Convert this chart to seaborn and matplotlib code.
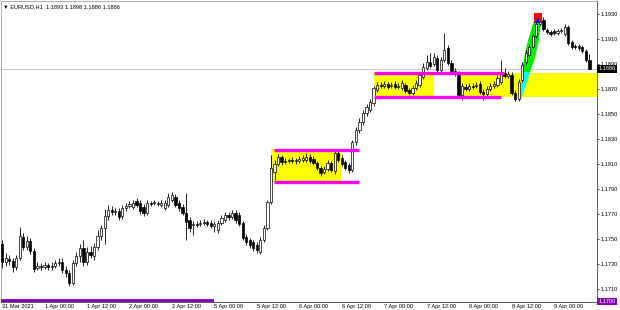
import numpy as np
import pandas as pd
import seaborn as sns
import matplotlib
matplotlib.use("Agg")
import matplotlib.pyplot as plt
from matplotlib.patches import Rectangle, Polygon

# ---------------- data (EURUSD H1, 31 Mar 2021 12:00 .. 9 Apr 2021 10:00) ----------------
opens = [1.17460, 1.17316, 1.17340, 1.17324, 1.17276, 1.17348, 1.17516, 1.17436, 1.17484, 1.17404,
         1.17268, 1.17284, 1.17276, 1.17292, 1.17276, 1.17284, 1.17308, 1.17316, 1.17252, 1.17228,
         1.17148, 1.17308, 1.17364, 1.17428, 1.17316, 1.17396, 1.17364, 1.17436, 1.17524, 1.17588,
         1.17684, 1.17732, 1.17716, 1.17724, 1.17684, 1.17748, 1.17764, 1.17756, 1.17804, 1.17788,
         1.17756, 1.17708, 1.17788, 1.17788, 1.17780, 1.17772, 1.17748, 1.17772, 1.17812, 1.17836,
         1.17788, 1.17756, 1.17708, 1.17652, 1.17612, 1.17620, 1.17620, 1.17628, 1.17636, 1.17628,
         1.17604, 1.17572, 1.17628, 1.17652, 1.17692, 1.17676, 1.17708, 1.17692, 1.17628, 1.17516,
         1.17492, 1.17476, 1.17452, 1.17396, 1.17492, 1.17588, 1.17796, 1.18036, 1.18100, 1.18156,
         1.18124, 1.18124, 1.18132, 1.18124, 1.18124, 1.18132, 1.18132, 1.18156, 1.18140, 1.18108,
         1.18068, 1.18036, 1.18060, 1.18108, 1.18044, 1.18188, 1.18148, 1.18116, 1.18092, 1.18052,
         1.18276, 1.18372, 1.18436, 1.18508, 1.18532, 1.18588, 1.18692, 1.18732, 1.18724, 1.18740,
         1.18724, 1.18740, 1.18716, 1.18708, 1.18732, 1.18692, 1.18668, 1.18708, 1.18732, 1.18796,
         1.18868, 1.18916, 1.18900, 1.18948, 1.18852, 1.18932, 1.19028, 1.18908, 1.18844, 1.18828,
         1.18652, 1.18716, 1.18700, 1.18724, 1.18724, 1.18740, 1.18676, 1.18660, 1.18700, 1.18724,
         1.18732, 1.18756, 1.18828, 1.18804, 1.18812, 1.18668, 1.18620, 1.18772, 1.18916, 1.18972,
         1.19036, 1.19124, 1.19220, 1.19252, 1.19172, 1.19156, 1.19164, 1.19148, 1.19164, 1.19140,
         1.19196, 1.19076, 1.19044, 1.19044, 1.19036, 1.19004, 1.18930]

closes = [1.17316, 1.17348, 1.17324, 1.17276, 1.17348, 1.17524, 1.17436, 1.17484, 1.17404, 1.17260,
          1.17284, 1.17276, 1.17292, 1.17276, 1.17284, 1.17308, 1.17316, 1.17252, 1.17228, 1.17148,
          1.17308, 1.17364, 1.17428, 1.17316, 1.17396, 1.17372, 1.17436, 1.17524, 1.17588, 1.17684,
          1.17732, 1.17716, 1.17724, 1.17676, 1.17748, 1.17764, 1.17780, 1.17788, 1.17772, 1.17724,
          1.17708, 1.17788, 1.17784, 1.17792, 1.17788, 1.17788, 1.17788, 1.17836, 1.17852, 1.17772,
          1.17748, 1.17708, 1.17636, 1.17588, 1.17620, 1.17616, 1.17628, 1.17636, 1.17620, 1.17604,
          1.17620, 1.17628, 1.17668, 1.17692, 1.17676, 1.17708, 1.17652, 1.17620, 1.17508, 1.17476,
          1.17452, 1.17428, 1.17412, 1.17492, 1.17588, 1.17796, 1.18068, 1.18100, 1.18156, 1.18116,
          1.18120, 1.18128, 1.18128, 1.18128, 1.18140, 1.18148, 1.18156, 1.18124, 1.18108, 1.18068,
          1.18028, 1.18060, 1.18108, 1.18052, 1.18188, 1.18132, 1.18100, 1.18068, 1.18052, 1.18276,
          1.18372, 1.18436, 1.18508, 1.18556, 1.18596, 1.18708, 1.18732, 1.18724, 1.18740, 1.18716,
          1.18732, 1.18716, 1.18724, 1.18748, 1.18684, 1.18668, 1.18708, 1.18748, 1.18812, 1.18876,
          1.18916, 1.18884, 1.18956, 1.18852, 1.18932, 1.19012, 1.18908, 1.18844, 1.18820, 1.18652,
          1.18724, 1.18700, 1.18724, 1.18716, 1.18732, 1.18676, 1.18660, 1.18700, 1.18724, 1.18740,
          1.18788, 1.18828, 1.18804, 1.18820, 1.18668, 1.18620, 1.18756, 1.18892, 1.18988, 1.19036,
          1.19124, 1.19220, 1.19268, 1.19180, 1.19156, 1.19140, 1.19148, 1.19164, 1.19172, 1.19196,
          1.19068, 1.19036, 1.19036, 1.19028, 1.19004, 1.18932, 1.18860]

highs = [1.17492, 1.17388, 1.17372, 1.17348, 1.17372, 1.17596, 1.17548, 1.17524, 1.17508, 1.17428,
         1.17316, 1.17308, 1.17316, 1.17308, 1.17316, 1.17332, 1.17348, 1.17348, 1.17284, 1.17252,
         1.17332, 1.17396, 1.17460, 1.17492, 1.17436, 1.17444, 1.17468, 1.17572, 1.17612, 1.17740,
         1.17772, 1.17764, 1.17748, 1.17748, 1.17772, 1.17788, 1.17804, 1.17812, 1.17828, 1.17812,
         1.17780, 1.17812, 1.17804, 1.17812, 1.17804, 1.17812, 1.17812, 1.17868, 1.17876, 1.17860,
         1.17812, 1.17780, 1.17868, 1.17676, 1.17644, 1.17644, 1.17652, 1.17660, 1.17652, 1.17652,
         1.17644, 1.17652, 1.17692, 1.17716, 1.17716, 1.17732, 1.17732, 1.17716, 1.17644, 1.17540,
         1.17508, 1.17492, 1.17476, 1.17516, 1.17612, 1.17812, 1.18172, 1.18132, 1.18180, 1.18172,
         1.18148, 1.18148, 1.18156, 1.18148, 1.18164, 1.18172, 1.18188, 1.18180, 1.18164, 1.18124,
         1.18084, 1.18084, 1.18132, 1.18124, 1.18212, 1.18204, 1.18172, 1.18132, 1.18108, 1.18292,
         1.18396, 1.18468, 1.18532, 1.18580, 1.18620, 1.18724, 1.18756, 1.18756, 1.18764, 1.18756,
         1.18756, 1.18764, 1.18748, 1.18772, 1.18748, 1.18708, 1.18732, 1.18772, 1.18836, 1.18908,
         1.18972, 1.18988, 1.18988, 1.18972, 1.18956, 1.19148, 1.19052, 1.18932, 1.18868, 1.18844,
         1.18748, 1.18740, 1.18748, 1.18748, 1.18756, 1.18764, 1.18700, 1.18724, 1.18748, 1.18764,
         1.18812, 1.18932, 1.18868, 1.18844, 1.18836, 1.18692, 1.18780, 1.18916, 1.19012, 1.19060,
         1.19148, 1.19244, 1.19292, 1.19276, 1.19188, 1.19172, 1.19180, 1.19180, 1.19188, 1.19220,
         1.19212, 1.19092, 1.19060, 1.19060, 1.19052, 1.19020, 1.18980]

lows = [1.17268, 1.17284, 1.17292, 1.17236, 1.17252, 1.17332, 1.17412, 1.17412, 1.17380, 1.17236,
        1.17252, 1.17252, 1.17260, 1.17252, 1.17252, 1.17268, 1.17284, 1.17228, 1.17196, 1.17124,
        1.17132, 1.17284, 1.17316, 1.17284, 1.17292, 1.17348, 1.17332, 1.17412, 1.17492, 1.17460,
        1.17652, 1.17692, 1.17692, 1.17652, 1.17660, 1.17724, 1.17748, 1.17740, 1.17756, 1.17700,
        1.17684, 1.17692, 1.17764, 1.17772, 1.17764, 1.17756, 1.17732, 1.17756, 1.17796, 1.17756,
        1.17724, 1.17692, 1.17492, 1.17556, 1.17532, 1.17596, 1.17604, 1.17612, 1.17604, 1.17588,
        1.17556, 1.17548, 1.17612, 1.17636, 1.17652, 1.17660, 1.17628, 1.17604, 1.17492, 1.17452,
        1.17428, 1.17404, 1.17388, 1.17380, 1.17476, 1.17572, 1.17780, 1.17972, 1.18084, 1.18092,
        1.18100, 1.18108, 1.18108, 1.18100, 1.18108, 1.18116, 1.18116, 1.18108, 1.18092, 1.18052,
        1.18004, 1.18020, 1.18044, 1.18036, 1.18020, 1.18116, 1.18084, 1.18052, 1.18028, 1.18036,
        1.18252, 1.18348, 1.18412, 1.18484, 1.18516, 1.18564, 1.18676, 1.18708, 1.18708, 1.18700,
        1.18708, 1.18700, 1.18700, 1.18692, 1.18668, 1.18652, 1.18652, 1.18692, 1.18716, 1.18780,
        1.18852, 1.18868, 1.18884, 1.18836, 1.18836, 1.18916, 1.18892, 1.18828, 1.18804, 1.18636,
        1.18612, 1.18684, 1.18684, 1.18700, 1.18708, 1.18660, 1.18612, 1.18644, 1.18684, 1.18708,
        1.18716, 1.18740, 1.18788, 1.18788, 1.18652, 1.18604, 1.18604, 1.18756, 1.18892, 1.18956,
        1.19020, 1.19108, 1.19204, 1.19164, 1.19140, 1.19124, 1.19132, 1.19132, 1.19148, 1.19124,
        1.19052, 1.19020, 1.19020, 1.19012, 1.18988, 1.18916, 1.18860]

tick_bars = [0, 12, 24, 36, 48, 60, 72, 84, 96, 108, 120, 132, 144, 156]
tick_labels = ["31 Mar 2021", "1 Apr 00:00", "1 Apr 12:00", "2 Apr 00:00", "2 Apr 12:00",
               "5 Apr 00:00", "5 Apr 12:00", "6 Apr 00:00", "6 Apr 12:00", "7 Apr 00:00",
               "7 Apr 12:00", "8 Apr 00:00", "8 Apr 12:00", "9 Apr 00:00"]
price_ticks = [1.1710, 1.1730, 1.1750, 1.1770, 1.1790, 1.1810, 1.1830, 1.1850,
               1.1870, 1.1890, 1.1910, 1.1930]
title_text = "EURUSD,H1  1.1893 1.1898 1.1886 1.1886"
last_price = 1.1886
purple_level = 1.1700
purple_end_bar = 60

# zones: (start bar, end bar, low price, high price)
yellow_zones = [(76.0, 95.8, 1.17956, 1.18216),
                (105.0, 122.0, 1.18636, 1.18828),
                (129.2, 175.0, 1.18636, 1.18828)]
# magenta levels: (start bar, end bar, price)
magenta_lines = [(76.8, 101.0, 1.18216), (76.8, 101.0, 1.17956),
                 (105.0, 141.8, 1.18828), (105.0, 141.0, 1.18636)]
# impulse polygons (bar, price)
cyan_poly = [(146.6, 1.18612), (146.9, 1.18836), (149.2, 1.18836)]
green_poly = [(146.9, 1.18836), (149.2, 1.18836), (150.6, 1.18948), (151.7, 1.19084),
              (152.3, 1.19244), (150.3, 1.19244), (148.6, 1.19084), (147.5, 1.18948)]
red_box = (150.3, 152.5, 1.19228, 1.19308)
blue_tri = [(150.6, 1.19228), (152.2, 1.19228), (151.4, 1.19276)]

# ---------------- drawing ----------------
sns.set_theme(style="white")
plt.rcParams['font.family'] = ['Liberation Sans', 'DejaVu Sans']

df = pd.DataFrame({"open": opens, "high": highs, "low": lows, "close": closes})
df["bar"] = np.arange(len(df))
df["up"] = df["close"] >= df["open"]

fig = plt.figure(figsize=(6.2, 3.1), dpi=100)
ax = fig.add_axes([1 / 620, 8.5 / 310, 595.5 / 620, 300.5 / 310])
ax.set_facecolor("white")

for (x0, x1, lo, hi) in yellow_zones:
    ax.add_patch(Rectangle((x0, lo), x1 - x0, hi - lo, facecolor="#ffff00",
                           edgecolor="none", zorder=1))

ax.add_patch(Polygon(cyan_poly, closed=True, facecolor="#00ffff", edgecolor="none", zorder=1.5))
ax.add_patch(Polygon(green_poly, closed=True, facecolor="#00ee00", edgecolor="none", zorder=1.5))

ax.axhline(last_price, color="#c0c0c0", lw=0.6, zorder=1.2)

# wicks
ax.vlines(df["bar"], df["low"], df["high"], color="black", lw=0.6, zorder=2)
# bodies
body_lo = np.minimum(df["open"], df["close"])
body_h = np.maximum(np.abs(df["close"] - df["open"]), 0.000005)
colors = np.where(df["up"], "white", "black")
ax.bar(df["bar"], body_h, bottom=body_lo, width=0.62, color=colors,
       edgecolor="black", linewidth=0.5, zorder=3)

for (x0, x1, p) in magenta_lines:
    ax.hlines(p, x0, x1, color="#ff00ff", lw=2.4, zorder=4)

rx0, rx1, rlo, rhi = red_box
ax.add_patch(Rectangle((rx0, rlo), rx1 - rx0, rhi - rlo, facecolor="#ff0000",
                       edgecolor="none", zorder=4))
ax.add_patch(Polygon(blue_tri, closed=True, facecolor="#0000ff", edgecolor="none", zorder=5))

ax.hlines(purple_level, -1, purple_end_bar, color="#8a00b4", lw=4.2, zorder=4, clip_on=True)

ax.set_xlim(-0.3, 168.0)
ax.set_ylim(1.1700, 1.19404)

ax.yaxis.tick_right()
ax.set_yticks(price_ticks)
ax.set_yticklabels([f"{v:.4f}" for v in price_ticks])
ax.set_xticks(tick_bars)
ax.set_xticklabels(tick_labels, ha="left")
ax.tick_params(axis="both", labelsize=4.1, length=1.5, width=0.5, pad=0.6,
               colors="black", direction="out")
ax.tick_params(axis="y", pad=1.5)
ax.grid(False)
for side in ["left", "top"]:
    ax.spines[side].set_color("#a0a0a0")
    ax.spines[side].set_linewidth(0.6)
for side in ["right", "bottom"]:
    ax.spines[side].set_color("#404040")
    ax.spines[side].set_linewidth(0.6)

ax.text(1.003, last_price, "1.1886", transform=ax.get_yaxis_transform(), fontsize=4.1,
        color="white", va="center", ha="left", clip_on=False, zorder=6,
        bbox=dict(boxstyle="square,pad=0.2", facecolor="black", edgecolor="none"))
ax.text(1.003, purple_level, "1.1700", transform=ax.get_yaxis_transform(), fontsize=4.1,
        color="white", va="center", ha="left", clip_on=False, zorder=6,
        bbox=dict(boxstyle="square,pad=0.2", facecolor="#8a00b4", edgecolor="none"))

fig.text(3 / 620, 1 - 6.5 / 310, "\u25bc " + title_text, fontsize=4.1, color="black",
         va="center", ha="left", family=["Liberation Sans", "DejaVu Sans"])

fig.savefig("out.png", dpi=100, facecolor="white")
